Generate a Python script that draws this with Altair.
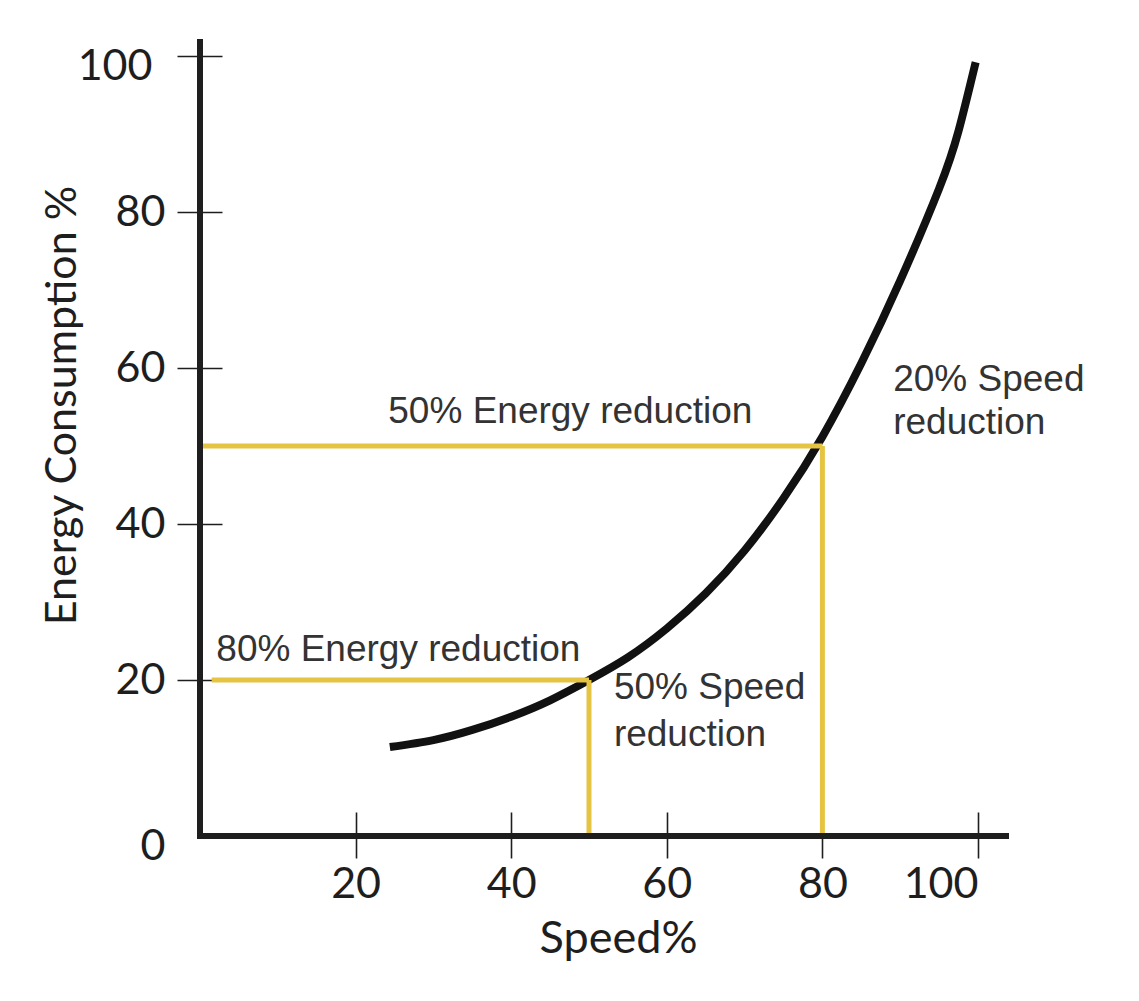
import altair as alt
import pandas as pd

# ---- data ----
speed = [24.4, 30, 35, 40, 45, 50, 55, 60, 65, 70, 75, 80, 85, 90, 95, 97.5, 99.7]
energy = [11.4, 12.3, 13.6, 15.3, 17.4, 20.0, 22.9, 26.6, 31.1, 36.6, 43.3, 51.2, 60.6, 71.2, 83.0, 90.4, 99.2]

x_ticks = [20, 40, 60, 80, 100]
y_ticks = [0, 20, 40, 60, 80, 100]

# yellow guide lines (speed / energy values)
guide_x = [0, 1.5, 50, 80]
guide_x2 = [80, 50, 50, 80]
guide_y = [50, 20, 0, 0]
guide_y2 = [50, 20, 20, 50]

# annotations anchored in data units
center_text = ["50% Energy reduction", "80% Energy reduction"]
center_x = [47.6, 25.5]
center_y = [54.4, 23.8]
left_text = ["50% Speed", "reduction", "20% Speed", "reduction"]
left_x = [53.2, 53.2, 89.1, 89.1]
left_y = [19.0, 12.9, 58.5, 52.9]

# axis lines extend a little beyond the 0-100 range
axis_x = [0, 0]
axis_x2 = [103.6, 0]
axis_y = [0, 0]
axis_y2 = [0, 101.8]

curve_df = pd.DataFrame({"speed": speed, "energy": energy})
guide_df = pd.DataFrame({"x": guide_x, "x2": guide_x2, "y": guide_y, "y2": guide_y2})
center_df = pd.DataFrame({"text": center_text, "x": center_x, "y": center_y})
left_df = pd.DataFrame({"text": left_text, "x": left_x, "y": left_y})
axis_df = pd.DataFrame({"x": axis_x, "x2": axis_x2, "y": axis_y, "y2": axis_y2})

xs = alt.Scale(domain=[0, 100], nice=False, zero=False)
ys = alt.Scale(domain=[0, 100], nice=False, zero=False)

AX_FONT = "Lato"
INK = "#1e1e1e"
NOTE_FONT = "Liberation Sans"
NOTE_SIZE = 37

xax = alt.Axis(
    values=x_ticks, domain=False, grid=False, offset=-24,
    tickSize=46, tickWidth=1.6, tickColor=INK,
    labelFont=AX_FONT, labelFontSize=43, labelColor=INK, labelPadding=5,
    title="Speed%", titleFont=AX_FONT, titleFontSize=45, titleFontWeight="normal",
    titleColor=INK, titleX=418, titleY=126, titleAlign="center", titleBaseline="middle",
)
yax = alt.Axis(
    values=y_ticks, domain=False, grid=False, offset=-22,
    tickSize=45, tickWidth=1.6, tickColor=INK,
    tickOpacity={"condition": {"test": "datum.value === 0", "value": 0}, "value": 1},
    labelFont=AX_FONT, labelFontSize=43, labelColor=INK,
    labelPadding={"condition": {"test": "datum.value === 100", "value": 25}, "value": 12},
    labelOffset={"condition": {"test": "datum.value === 100 || datum.value === 0", "value": 10}, "value": 0},
    title="Energy Consumption %", titleFont=AX_FONT, titleFontSize=43, titleFontWeight="normal",
    titleColor=INK, titleAngle=-90, titleX=-160, titleY=349, titleAlign="center", titleBaseline="middle",
)

X = lambda f: alt.X(f, scale=xs, axis=xax)
Y = lambda f: alt.Y(f, scale=ys, axis=yax)

guides = alt.Chart(guide_df).mark_rule(color="#E6C443", strokeWidth=5).encode(
    x=X("x:Q"), x2="x2:Q", y=Y("y:Q"), y2="y2:Q",
)

curve = alt.Chart(curve_df).mark_line(
    color="#111111", strokeWidth=8, interpolate="natural", strokeCap="butt"
).encode(x=X("speed:Q"), y=Y("energy:Q"))

axes_lines = alt.Chart(axis_df).mark_rule(color=INK, strokeWidth=6, strokeCap="square").encode(
    x=X("x:Q"), x2="x2:Q", y=Y("y:Q"), y2="y2:Q",
)

notes_center = alt.Chart(center_df).mark_text(
    font=NOTE_FONT, fontSize=NOTE_SIZE, color="#333333", baseline="middle", align="center"
).encode(x=X("x:Q"), y=Y("y:Q"), text="text:N")

notes_left = alt.Chart(left_df).mark_text(
    font=NOTE_FONT, fontSize=NOTE_SIZE, color="#333333", baseline="middle", align="left"
).encode(x=X("x:Q"), y=Y("y:Q"), text="text:N")

chart = alt.layer(curve, guides, axes_lines, notes_center, notes_left).properties(
    width=778, height=780,
    autosize=alt.AutoSizeParams(type="none"),
    padding={"left": 192, "top": 48, "right": 150, "bottom": 150},
    background="white",
).configure_view(stroke=None)

chart.save("out.html", embed_options={"renderer": "svg", "actions": False})
